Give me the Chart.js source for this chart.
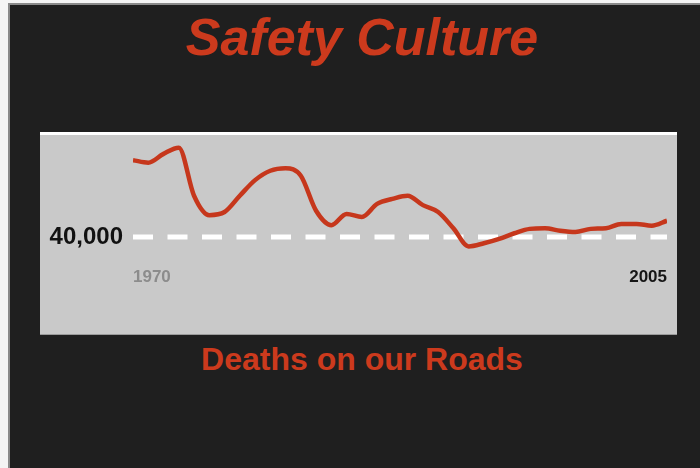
<!DOCTYPE html>
<html>
<head>
<meta charset="utf-8">
<script src="https://cdn.jsdelivr.net/npm/chart.js@4.4.0/dist/chart.umd.min.js"></script>
<style>
  html, body { margin: 0; padding: 0; width: 700px; height: 468px; overflow: hidden; background: #f4f4f4; }
  #frame { position: absolute; left: 8px; top: 3px; width: 692px; height: 465px; background: #1f1f1f; border-left: 2px solid #8a8a8a; border-top: 2px solid #8a8a8a; box-sizing: border-box; }
  #panel { position: absolute; left: 40px; top: 132px; width: 637px; height: 203px; background: #c9c9c9; border-top: 3px solid #ffffff; border-bottom: 1px solid #9a9a9a; box-sizing: border-box; }
  .ttl { position: absolute; width: 700px; text-align: center; font-family: "Liberation Sans", Arial, sans-serif; font-weight: bold; color: #cc3a1d; white-space: nowrap; }
  #title { left: 12px; top: 11px; font-size: 52px; line-height: 52px; font-style: italic; }
  #sub { left: 12px; top: 343px; font-size: 32px; line-height: 32px; }
  #wrap { position: absolute; left: 0; top: 0; width: 700px; height: 468px; }
</style>
</head>
<body>
<div id="frame"></div>
<div id="panel"></div>
<div class="ttl" id="title">Safety Culture</div>
<div class="ttl" id="sub">Deaths on our Roads</div>
<div id="wrap"><canvas id="c" width="700" height="468"></canvas></div>
<script>
const years = [1970,1971,1972,1973,1974,1975,1976,1977,1978,1979,1980,1981,1982,1983,1984,1985,1986,1987,
               1988,1989,1990,1991,1992,1993,1994,1995,1996,1997,1998,1999,2000,2001,2002,2003,2004,2005];
const deaths = [52300,51900,53300,54300,46600,43500,44000,46600,49100,50600,51000,49800,44200,41900,43700,43200,45300,46100,
                46600,45100,44000,41400,38500,39000,39700,40600,41300,41400,41000,40800,41300,41400,42100,42100,41800,42600];
const referenceLevel = 40000;
const xTickLabels = [1970, 2005];
const yTickValues = [40000];

const points = years.map((yr, i) => ({ x: yr, y: deaths[i] }));
const refLine = [{ x: years[0], y: referenceLevel }, { x: years[years.length - 1], y: referenceLevel }];

new Chart(document.getElementById('c'), {
  type: 'line',
  data: {
    datasets: [
      { data: points, borderColor: '#c6371c', borderWidth: 4.5, cubicInterpolationMode: 'monotone', pointRadius: 0, fill: false },
      { data: refLine, borderColor: '#ffffff', borderWidth: 5, borderDash: [20, 14.5], pointRadius: 0, fill: false }
    ]
  },
  options: {
    responsive: false,
    animation: false,
    events: [],
    layout: { padding: { left: 0, right: 33, top: 140, bottom: 173 } },
    plugins: { legend: { display: false }, tooltip: { enabled: false }, title: { display: false } },
    scales: {
      x: {
        type: 'linear',
        min: 1970, max: 2005,
        grid: { display: false, drawTicks: false },
        border: { display: false },
        afterBuildTicks: s => { s.ticks = xTickLabels.map(v => ({ value: v })); },
        afterFit: s => { s.height = 30; },
        ticks: {
          align: 'inner',
          padding: 2,
          maxRotation: 0,
          autoSkip: false,
          callback: v => String(v),
          color: ctx => ctx.index === 0 ? '#8c8c8c' : '#151515',
          font: { family: 'Liberation Sans', weight: 'bold', size: 17 }
        }
      },
      y: {
        type: 'linear',
        min: 35520, max: 55520,
        grid: { display: false, drawTicks: false },
        border: { display: false },
        afterBuildTicks: s => { s.ticks = yTickValues.map(v => ({ value: v })); },
        afterFit: s => { s.width = 133; },
        ticks: {
          padding: 10,
          color: '#111111',
          callback: v => v.toLocaleString('en-US'),
          font: { family: 'Liberation Sans', weight: 'bold', size: 24 }
        }
      }
    }
  }
});
</script>
</body>
</html>
